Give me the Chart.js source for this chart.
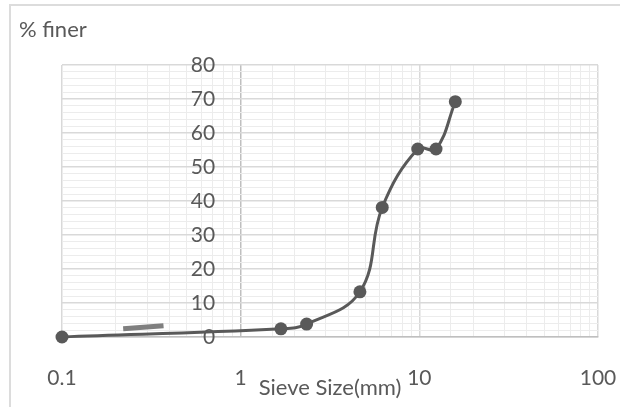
<!DOCTYPE html>
<html>
<head>
<meta charset="utf-8">
<script src="https://cdn.jsdelivr.net/npm/chart.js@4/dist/chart.umd.min.js"></script>
<style>
  html, body { margin: 0; padding: 0; background: #ffffff; }
  #wrap { position: relative; width: 620px; height: 407px; overflow: hidden; }
  #frame { position: absolute; left: 9px; top: 4px; width: 700px; height: 500px;
           border-left: 2px solid #dcdcdc; border-top: 2px solid #dcdcdc; }
  canvas { position: absolute; left: 0; top: 0; }
</style>
</head>
<body>
<div id="wrap">
  <div id="frame"></div>
  <canvas id="c" width="620" height="407"></canvas>
</div>
<script>
// Data
const sieveSize = [0.1, 1.68, 2.34, 4.65, 6.2, 9.8, 12.4, 15.9];      // mm
const percentFiner = [0, 2.4, 3.8, 13.3, 38.1, 55.3, 55.3, 69.2];      // %
// Small grey stray mark seen in the reference (near bottom-left)
const strayX = [0.22, 0.37];
const strayY = [2.4, 3.3];
const xTickLabels = [0.1, 1, 10, 100];
const yTickLabels = [0, 10, 20, 30, 40, 50, 60, 70, 80];
const yAxisCross = 1;          // vertical axis crosses the x axis at 1 mm
const yLabelAnchor = 0.72;     // labels sit just left of the crossing line

const curve = sieveSize.map((x, i) => ({ x: x, y: percentFiner[i] }));
const stray = strayX.map((x, i) => ({ x: x, y: strayY[i] }));

const isPow10 = v => Math.abs(Math.log10(v) - Math.round(Math.log10(v))) < 1e-9;
const txt = '#595959';

const cornerTitle = {
  id: 'cornerTitle',
  afterDraw(chart) {
    const ctx = chart.ctx;
    ctx.save();
    ctx.fillStyle = txt;
    ctx.font = '22px Lato';
    ctx.textBaseline = 'alphabetic';
    ctx.textAlign = 'left';
    ctx.fillText('% finer', 19, 37);
    ctx.restore();
  }
};

new Chart(document.getElementById('c'), {
  type: 'scatter',
  data: {
    datasets: [
      {
        data: stray,
        showLine: true,
        borderColor: '#7f7f7f',
        borderWidth: 5,
        pointRadius: 0,
        tension: 0,
        order: 2
      },
      {
        data: curve,
        showLine: true,
        borderColor: '#595959',
        backgroundColor: '#595959',
        borderWidth: 3,
        pointRadius: 6.5,
        pointHoverRadius: 6.5,
        pointBorderWidth: 0,
        tension: 0.4,
        clip: false,
        order: 1
      }
    ]
  },
  options: {
    responsive: false,
    animation: false,
    events: [],
    layout: { padding: { left: 62, right: 22, top: 65, bottom: 0 } },
    plugins: { legend: { display: false }, tooltip: { enabled: false } },
    scales: {
      x: {
        type: 'logarithmic',
        position: 'bottom',
        min: 0.1,
        max: 100,
        afterFit(scale) { scale.height = 70; scale.paddingLeft = 0; scale.paddingRight = 0; },
        grid: {
          drawTicks: false,
          color: ctx => {
            if (!ctx.tick) return '#ececec';
            if (Math.abs(ctx.tick.value - yAxisCross) < 1e-9) return '#bfbfbf';
            return isPow10(ctx.tick.value) ? '#d9d9d9' : '#ececec';
          },
          lineWidth: ctx => (ctx.tick && isPow10(ctx.tick.value)) ? 1.5 : 1
        },
        border: { display: true, color: '#bfbfbf', width: 1.5 },
        ticks: {
          autoSkip: false,
          maxRotation: 0,
          padding: 29,
          color: txt,
          font: { family: 'Lato', size: 21 },
          callback: v => xTickLabels.some(t => Math.abs(t - v) < 1e-9) ? String(v) : ''
        },
        title: {
          display: true,
          text: 'Sieve Size(mm)',
          color: txt,
          font: { family: 'Lato', size: 22 },
          padding: { top: 0, bottom: 6 }
        }
      },
      y: {
        type: 'linear',
        position: { x: yLabelAnchor },
        min: 0,
        max: 80,
        afterFit(scale) { scale.width = 0; },
        grid: {
          drawTicks: false,
          color: ctx => (ctx.tick && ctx.tick.value % 10 === 0) ? '#d9d9d9' : '#ececec',
          lineWidth: ctx => (ctx.tick && ctx.tick.value % 10 === 0) ? 1.5 : 1
        },
        border: { display: false },
        ticks: {
          stepSize: 2,
          autoSkip: false,
          padding: 0,
          color: txt,
          font: { family: 'Lato', size: 21 },
          callback: v => yTickLabels.includes(v) ? String(v) : ''
        }
      }
    }
  },
  plugins: [cornerTitle]
});
</script>
</body>
</html>
